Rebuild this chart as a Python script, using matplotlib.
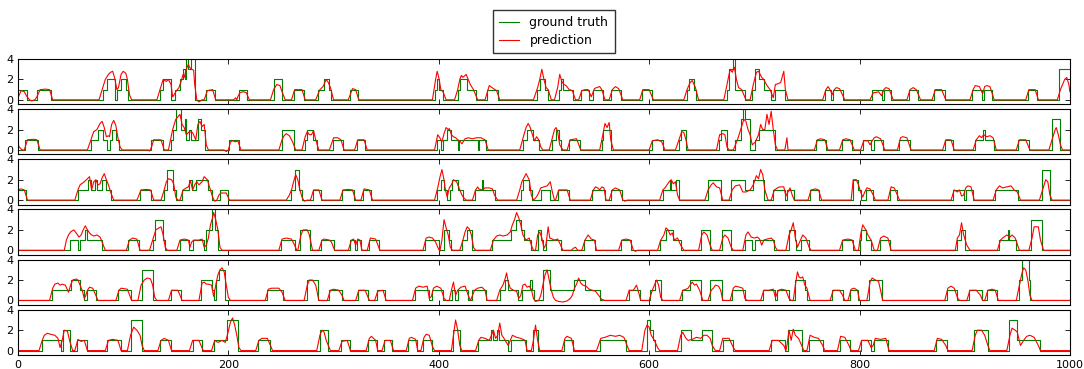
import matplotlib
matplotlib.use('Agg')
from matplotlib import pyplot as plt

# ground truth: (x where level starts, level) -- drawn as steps
gt1 = [(0,1),(9,0),(18,1),(31,0),(81,1),(85,2),(92,0),(94,1),(98,2),(103,1),(105,0),
       (135,1),(138,2),(145,0),(149,1),(154,2),(157,3),(159,2),(160,4.3),(162,3),(164,4.3),(168,0),
       (179,1),(187,0),(210,1),(218,0),(243,2),(251,0),(262,1),(272,0),(285,1),(291,2),(296,1),(298,0),
       (316,1),(323,0),(396,1),(398,2),(400,1),(404,0),(418,1),(420,2),(427,1),(435,0),(446,1),(456,0),
       (493,1),(496,2),(501,1),(504,0),(514,1),(516,2),(518,1),(528,0),(535,1),(543,0),(547,1),(556,0),
       (564,1),(573,0),(593,1),(603,0),(636,1),(638,2),(643,1),(645,0),(674,1),(676,3),(680,4.3),(682,1),(691,0),
       (698,1),(701,3),(704,2),(709,1),(716,0),(720,1),(729,0),(767,1),(773,0),(775,1),(784,0),
       (812,1),(821,0),(823,1),(830,0),(847,1),(856,0),(871,1),(881,0),(907,1),(916,0),(918,1),(926,0),
       (960,1),(969,0),(990,3)]
gt2 = [(0,0),(7,1),(19,0),(69,1),(76,2),(81,1),(85,0),(87,1),(89,2),(93,1),(96,0),
       (126,1),(138,0),(145,1),(147,2),(150,4.3),(155,2),(159,3),(160,1),(163,2),(164,1),(171,3),(174,2),(178,0),
       (201,1),(210,0),(251,2),(262,0),(273,1),(275,2),(280,1),(284,0),(299,1),(309,0),(322,1),(330,0),
       (398,1),(402,0),(404,1),(408,2),(412,1),(418,0),(419,1),(437,0),(438,1),(445,0),
       (480,1),(484,2),(490,1),(495,0),(508,1),(511,2),(514,1),(516,0),(524,1),(534,0),(555,1),(556,2),(564,0),
       (603,1),(613,0),(628,1),(630,2),(635,0),(666,1),(668,2),(674,0),(682,1),(687,3),(689,4.3),(691,3),(696,0),
       (701,1),(704,2),(720,0),(759,1),(768,0),(783,1),(793,0),(803,1),(811,0),(814,1),(822,0),(838,1),(848,0),
       (881,1),(889,0),(910,1),(917,2),(919,1),(928,0),(951,1),(961,0),(983,3),(991,0)]
gt3 = [(0,1),(8,0),(57,1),(67,2),(69,1),(73,2),(75,1),(80,2),(84,1),(88,0),(116,1),(126,0),
       (139,1),(142,3),(147,1),(150,0),(156,1),(163,2),(165,1),(169,2),(181,1),(184,0),(192,1),(200,0),
       (260,1),(263,3),(267,1),(270,0),(280,1),(288,0),(308,1),(319,0),(328,1),(336,0),
       (398,1),(402,2),(405,1),(408,0),(411,1),(413,2),(418,1),(423,0),(434,1),(441,2),(442,1),(453,0),
       (478,1),(480,2),(486,1),(489,0),(497,1),(506,0),(513,1),(524,0),(546,1),(558,0),(564,1),(574,0),
       (613,1),(620,2),(621,1),(626,2),(628,0),(656,2),(668,0),(678,2),(691,1),(699,2),(709,0),
       (718,1),(729,0),(731,1),(738,0),(753,1),(761,0),(794,2),(799,1),(801,0),(806,1),(813,0),(829,1),(836,0),
       (889,1),(899,0),(901,1),(908,0),(929,1),(951,0),(973,3),(981,0)]
gt4 = [(0,0),(49,1),(57,0),(59,1),(64,2),(66,1),(80,0),(105,1),(115,0),(128,1),(130,3),(138,1),(140,0),
       (154,1),(163,0),(166,1),(177,0),(179,2),(184,4.3),(187,2),(190,0),(250,1),(263,0),(268,2),(278,0),(288,1),(300,0),
       (316,1),(320,0),(322,1),(326,0),(334,1),(343,0),(387,1),(400,0),(405,2),(410,1),(412,0),(422,1),(427,2),(432,0),
       (451,1),(469,2),(473,3),(478,2),(481,1),(488,0),(494,2),(497,1),(499,0),(502,1),(516,0),(538,1),(549,0),(573,1),(583,0),
       (610,1),(616,2),(623,1),(630,0),(649,2),(658,0),(669,2),(678,0),(691,1),(698,0),(701,1),(719,0),(733,2),(739,1),(740,0),(744,1),(752,0),
       (783,1),(794,0),(800,1),(801,2),(806,1),(811,0),(819,1),(829,0),(893,1),(896,2),(900,0),(933,1),(941,2),(942,1),(949,0),(963,3),(973,0)]
gt5 = [(0,0),(32,1),(50,2),(59,1),(63,0),(66,1),(74,0),(95,1),(107,0),(118,3),(128,0),(145,1),(155,0),
       (174,2),(184,1),(186,0),(188,2),(191,3),(197,0),(237,1),(252,0),(275,2),(285,0),(296,1),(308,0),(323,1),(333,0),(341,1),(349,0),
       (377,1),(391,0),(394,1),(404,0),(413,1),(415,0),(418,1),(428,0),(432,1),(445,0),(458,1),(463,2),(466,1),(475,0),(479,1),(487,2),(489,1),(491,0),
       (499,3),(506,1),(529,2),(539,1),(553,0),(581,1),(591,0),(601,1),(606,2),(611,0),(631,1),(639,2),(649,0),(658,2),(669,0),(679,1),(691,0),
       (708,1),(720,0),(722,1),(733,0),(739,2),(748,1),(750,0),(774,1),(784,0),(791,1),(799,0),(809,2),(821,0),(883,1),(893,0),(904,1),(916,0),(921,1),(931,0),
       (952,2),(954,4.3),(961,2),(962,0)]
gt6 = [(0,0),(23,1),(41,0),(43,2),(49,0),(56,1),(66,0),(85,1),(98,0),(107,3),(118,0),(135,1),(145,0),(166,1),(175,0),
       (186,1),(199,3),(209,0),(228,1),(240,0),(287,2),(295,0),(307,1),(316,0),(333,1),(341,0),(348,1),(356,0),(371,1),(379,0),(385,1),(394,0),
       (414,2),(420,0),(437,1),(450,2),(452,1),(455,2),(457,1),(466,0),(469,1),(483,0),(490,2),(494,0),(519,1),(528,0),(553,1),(578,0),
       (598,3),(601,2),(604,1),(606,0),(630,2),(640,1),(650,2),(660,0),(670,1),(680,0),(716,1),(729,0),(732,2),(745,0),(752,1),(765,0),
       (781,1),(791,0),(801,1),(811,0),(814,1),(827,0),(873,1),(883,0),(909,2),(922,0),(942,3),(950,1),(972,0)]

# prediction: (x, value) points
pr1 = [(0,0.2),(3,0.9),(6,0.8),(8,0.4),(11,0),(13,-0.1),(16,0),(18,0.3),(21,1.0),(26,1.05),(30,1.0),(33,0),
       (77,0),(80,1.0),(83,2.0),(86,2.5),(88,2.7),(90,2.8),(92,2.1),(94,1.0),(95.5,1.2),(98,2.5),(100,2.8),(102.5,2.6),(104,2.0),(106,0.5),(108,0),
       (132,0),(135,1.0),(138,2.0),(141,1.8),(143,2.0),(145.5,1.5),(147,0.3),(148.5,0.5),(150,0.8),(153,1.2),(155,1.8),(157,2.5),(158,2.2),
       (160,3.0),(162,3.5),(163,3.2),(165,3.0),(167,2.9),(168,1.5),(170,0),(172,-0.2),(175,0),
       (177,0),(180,0.9),(185,1.0),(188,0),(205,0),(207,0.2),(208,0),(209,0.3),(211,0.7),(214,0.8),(217,0.7),(220,0),
       (240,0),(243,1.0),(246,1.5),(249,1.4),(251,0.8),(254,0),(260,0),(263,1.0),(270,1.0),(273,0),
       (283,0),(287,1.0),(290,1.3),(293,2.0),(295,1.7),(297,1.2),(300,0),(314,0),(318,1.1),(321,1.0),(324,0),
       (394,0),(397,2.0),(398.5,2.8),(400,2.2),(402,1.0),(404,0.8),(407,0),
       (415,0),(418,1.0),(420,2.0),(421.5,2.4),(423,2.2),(426,2.5),(428,2.0),(430,1.5),(433,1.0),(437,0),
       (444,0),(448,1.4),(452,1.1),(455,0.9),(458,0),
       (490,0),(494,1.2),(496,2.0),(498,3.0),(500,2.0),(502,1.2),(504,1.0),(507,0),
       (510,0),(513,1.2),(515,2.5),(517,1.8),(519,1.5),(521,1.4),(524,1.0),(527,0.9),(530,0),
       (533,0),(536,0.9),(539,1.0),(542,1.0),(545,0.3),(548,1.1),(550,1.2),(553,1.3),(555,1.0),(558,0),
       (562,0),(565,1.0),(568,1.3),(571,1.1),(575,0),(591,0),(594,1.0),(600,1.0),(604,0),
       (633,0),(636,1.0),(639,1.7),(641,1.9),(644,1.2),(647,0),
       (671,0),(674,1.5),(677,3.0),(679,2.7),(681,3.2),(683,2.0),(685,1.2),(688,1.0),(692,0),
       (696,0),(699,1.5),(702,2.7),(704,2.8),(707,2.2),(709,2.0),(712,1.4),(715,1.0),(718,0.2),(720,1.5),(723,1.6),(725,1.7),(728,2.8),(729.5,1.0),(732,0),
       (765,0),(768,1.0),(770,1.3),(772,1.0),(774,0.5),(776,1.0),(778,1.2),(781,1.1),(786,0),
       (810,0),(813,0.7),(815,0.7),(818,0.8),(821,0.4),(823,1.0),(825,1.2),(828,1.1),(832,0),
       (845,0),(848,1.0),(851,1.2),(854,1.0),(858,0),(869,0),(872,1.0),(878,1.0),(882,0),
       (905,0),(908,1.0),(910,1.4),(914,1.3),(917,0.6),(919,1.3),(921,1.4),(924,1.3),(928,0),
       (958,0),(961,1.0),(967,1.0),(970,0),(988,0),(991,1.0),(995,2.0),(997,2.2),(999,1.5),(1000,0.8)]
pr2 = [(0,0.5),(2,0.2),(4,0),(6,0),(9,1.0),(15,1.05),(18,1.0),(21,0),
       (66,0),(70,1.2),(72,1.8),(75,2.0),(78,2.6),(80,2.8),(82,2.2),(84,1.3),(86,1.4),(87,1.3),(89,2.5),(91,2.9),(93,2.4),(95,1.2),(97,0.3),(99,0),
       (124,0),(125,-0.1),(127,0.3),(129,1.0),(136,1.0),(139,0),
       (143,0),(145,1.0),(147,2.0),(150,3.0),(154,3.5),(156,2.5),(158,2.2),(160,1.5),(163,1.8),(166,1.7),(169,1.0),(171,2.5),(173,2.8),(175,2.3),(177,2.5),(179,0.5),(181,0),
       (196,0),(198,-0.15),(200,0),(202,0.8),(204,0.9),(207,0.8),(209,0.9),(212,0),
       (248,0),(251,1.0),(253,1.4),(255,1.6),(258,1.4),(261,0.8),(264,0),
       (270,0),(273,1.3),(275,1.8),(277,1.5),(279,1.5),(281,1.9),(283,1.0),(286,0),
       (296,0),(300,1.2),(304,1.2),(307,1.0),(310,0),(320,0),(323,1.0),(329,1.0),(332,0),
       (396,0),(399,1.5),(401,1.2),(403,0.8),(405,1.6),(407,2.2),(409,2.0),(410,2.1),(412,1.5),(414,1.3),(416,1.2),(418,1.0),(420,0.9),(422,0.6),
       (425,1.1),(428,1.2),(432,1.1),(436,1.2),(440,1.2),(444,1.0),(447,0),
       (477,0),(481,1.5),(483,2.2),(485,2.6),(487,2.2),(489,1.5),(491,0.9),(493,1.3),(495,1.0),(497,0.3),(499,0),
       (505,0),(508,1.2),(510,2.0),(511.5,2.2),(513,1.8),(515,0.5),(518,0),(522,0),(525,1.0),(531,1.1),(535,0),
       (553,0),(556,1.5),(558,2.6),(560,2.2),(562,2.7),(563.5,1.0),(566,0),
       (600,0),(603,0.9),(608,1.0),(612,0.8),(615,0),(625,0),(629,1.2),(631,1.8),(633,1.7),(635,1.0),(637,0),
       (664,0),(667,1.5),(670,1.6),(672,1.5),(674,0.3),(676,0),
       (680,0),(684,1.0),(687,2.0),(690,3.0),(692,2.8),(694,2.0),(696,1.5),(698,0.5),(701,0.8),(704,1.5),(706,2.5),(708,2.0),(710,2.0),
       (712,3.5),(714,2.5),(716,3.8),(718,2.0),(720,0.5),(722,0),(729,0),(731,1.2),(732,0),
       (757,0),(760,1.0),(763,1.1),(767,1.0),(770,0),(781,0),(784,1.0),(787,1.1),(791,1.0),(795,0),
       (801,0),(804,0.9),(808,0.9),(810,0.5),(812,0.9),(814,1.2),(816,1.3),(820,1.1),(824,0),
       (836,0),(839,1.2),(841,1.3),(845,1.2),(849,0),(879,0),(882,1.0),(887,1.0),(890,0),
       (908,0),(911,1.0),(914,1.4),(916,1.2),(918,1.5),(921,1.3),(924,1.4),(927,1.2),(930,0),
       (949,0),(952,1.0),(958,1.0),(962,0),(980,0),(983,1.0),(986,2.0),(987,2.2),(989,1.5),(991,0.5),(993,0),(1000,0)]
pr3 = [(0,1.0),(3,1.1),(6,1.0),(9,0),
       (54,0),(57,1.0),(59,1.5),(63,1.8),(66,2.1),(68,2.3),(70,1.0),(72,1.8),(74,2.0),(76,1.5),(78,1.6),(80,2.2),(82,2.6),(84,2.0),(86,1.5),(88,0.8),(91,0),
       (113,0),(117,1.0),(122,1.05),(126,1.0),(129,0),
       (136,0),(139,1.0),(141,1.8),(143,2.1),(146,2.0),(148,1.6),(150,0.3),(152,0),
       (154,0),(157,1.0),(160,1.2),(162,1.3),(164,1.9),(166,1.0),(168,1.5),(170,1.8),(172,1.5),(175,1.8),(177,2.3),(180,2.0),(183,1.0),(185,0.3),
       (187,-0.1),(189,0),(191,0.5),(193,0.7),(198,0.7),(201,0),
       (255,0),(258,0.5),(260,1.0),(262,1.8),(264,2.5),(266,2.0),(268,1.0),(270,0.3),(272,-0.1),(275,0),
       (278,0),(281,1.0),(286,1.0),(289,0),(306,0),(309,1.0),(314,1.05),(318,1.0),(321,0),(326,0),(329,1.1),(334,1.0),(337,0),
       (396,0),(399,1.2),(401,2.2),(403,3.0),(405,2.0),(406,1.2),(408,0.3),(410,1.2),(412,1.5),(414,2.0),(417,1.8),(420,1.0),(422,0.5),(424,0.2),(426,0),
       (432,0),(435,1.0),(437,1.3),(438,1.1),(441,1.0),(444,1.2),(448,1.2),(451,1.1),(453,0.5),(456,0),
       (474,0),(477,1.0),(479,1.8),(481,2.2),(483,2.6),(486,2.0),(488,0.5),(490,0),
       (492,0.2),(494,0.5),(497,1.2),(500,1.3),(503,1.4),(506,1.8),(508,0.8),(510,0),(511,0),(514,1.0),(522,1.0),(525,0),
       (544,0),(547,1.0),(549,1.3),(551,1.2),(553,1.0),(555,1.3),(557,1.2),(559,0),
       (562,0),(565,1.0),(568,1.2),(572,1.0),(575,0),(577,-0.1),(579,0),
       (610,0),(613,1.0),(615,1.2),(617,1.5),(619,1.8),(621,2.0),(623,1.6),(625,1.8),(627,0.5),(629,0),
       (653,0),(656,1.0),(659,1.5),(661,1.7),(664,1.3),(667,1.2),(670,0),
       (676,0),(679,1.0),(682,1.4),(686,1.5),(689,0.8),(692,0.8),(696,1.0),(699,1.5),(702,2.4),(704,2.1),(706,3.0),(708,2.5),(710,1.0),(713,0),
       (716,0),(719,1.0),(722,1.2),(724,1.3),(728,1.3),(730,0.4),(732,0.8),(734,1.2),(736,0.5),(738,0),
       (751,0),(754,1.0),(758,1.1),(761,1.0),(764,0),
       (792,0),(794,2.0),(797,2.0),(799,1.5),(801,0.8),(803,0.3),(805,0.8),(807,1.2),(810,1.1),(813,0.5),(815,0),
       (827,0),(830,1.3),(833,1.2),(836,0.5),(838,0),
       (887,0),(890,1.0),(893,0.8),(895,1.0),(897,0.4),(899,0.5),(901,1.2),(903,1.4),(906,1.3),(909,0),
       (927,0),(930,1.0),(933,1.4),(936,1.2),(940,1.3),(944,1.4),(947,1.0),(950,0.8),(953,0),
       (971,0),(974,1.0),(977,2.0),(979,1.8),(981,0.5),(983,0),(1000,0)]
pr4 = [(0,0),(44,0),(46,1.0),(48,1.5),(50,1.8),(53,2.0),(56,1.6),(58,1.3),(60,1.5),(62,2.0),(64,2.4),(66,2.0),(68,1.7),(70,1.5),(72,1.4),(75,1.5),(78,1.3),(80,0.8),(83,0),
       (103,0),(106,1.0),(109,1.2),(113,1.1),(116,0),
       (125,0),(128,1.0),(131,2.0),(134,2.2),(136,2.3),(138,1.5),(140,0.3),(142,0),
       (151,0),(154,1.0),(158,1.1),(162,1.0),(163.5,0.3),(165,0.8),(167,1.0),(172,1.0),(175,1.1),(177,0.3),(179,0.5),(181,1.2),(183,2.5),(185,3.2),(186,3.7),
       (188,3.0),(190,2.0),(192,0.3),(194,0),
       (248,0),(251,1.1),(255,1.2),(260,1.1),(263,0.5),(265,0),(266,0),(269,1.5),(271,2.0),(275,2.0),(277,1.5),(280,0),
       (286,0),(289,1.0),(291,1.1),(296,1.0),(298,0.8),(301,0),(314,0),(317,1.0),(319,1.1),(321,0.5),(323,1.1),(325,1.0),(327,0),
       (332,0),(335,1.2),(340,1.1),(344,0),
       (385,0),(388,1.2),(391,1.3),(394,1.2),(397,0.8),(399,0.3),(401,-0.1),(403,1.0),(405,3.0),(407,2.2),(409,1.5),(411,0.3),(413,0),
       (420,0),(423,1.0),(425,1.8),(427,2.3),(429,2.1),(431,1.5),(433,0.3),(435,0),
       (449,0),(452,1.0),(455,1.4),(458,1.5),(461,1.4),(465,1.5),(468,1.8),(470,2.5),(472,3.0),(474,3.7),(476,3.2),(478,2.5),(480,1.5),(483,1.0),(486,1.2),(488,0.5),(490,0),
       (492,0),(494,1.5),(496,1.8),(498,1.2),(500,0.2),(502,0.6),(504,2.3),(505.5,1.2),(508,1.1),(510,1.0),(513,1.1),(515,0.7),(518,0),
       (526,0),(528,0.2),(530,0.3),(532,0),(536,0),(539,1.0),(542,1.5),(545,1.1),(548,1.0),(550,0),
       (571,0),(574,1.0),(578,1.1),(582,1.0),(585,0),(587,-0.1),(589,0),
       (608,0),(611,1.0),(614,1.5),(616,2.2),(618,2.0),(620,1.5),(622,1.7),(624,1.0),(627,1.2),(630,0.5),(633,0),
       (647,0),(650,1.5),(652,1.8),(655,1.5),(658,0.5),(660,0),(667,0),(670,1.2),(672,1.5),(675,1.2),(678,0.3),(680,0),
       (689,0),(692,1.5),(694,1.8),(697,1.3),(700,1.2),(703,1.3),(705,1.1),(707,0.5),(709,1.0),(712,1.1),(716,1.2),(718,1.0),(720,0.3),(722,0),
       (730,0),(733,1.5),(735,2.0),(737,2.7),(739,1.2),(741,0.3),(743,0.8),(746,1.5),(749,1.2),(752,0.3),(754,0),
       (781,0),(784,1.0),(789,1.1),(793,1.0),(796,0),(799,0),(801,1.5),(803,2.5),(806,2.0),(808,1.5),(811,1.0),(814,0),
       (817,0),(820,1.2),(823,1.4),(827,1.2),(830,0),
       (891,0),(893,1.2),(895,1.5),(897,2.7),(899,1.5),(902,0.5),(905,0),
       (931,0),(934,1.0),(936,1.2),(940,1.5),(943,1.3),(945,1.5),(948,1.2),(952,0),
       (961,0),(964,1.2),(966,2.3),(970,2.3),(972,1.0),(975,0),(1000,0)]
pr5 = [(0,0),(30,0),(33,1.2),(35,1.6),(38,1.7),(40,1.5),(42,1.6),(45,1.5),(48,0.8),(50,1.5),(52,2.0),(55,2.1),(57,2.0),(59,1.5),(61,1.0),(63,0.2),
       (64.5,0.5),(66,1.0),(68,1.3),(71,1.2),(74,0.5),(76,0),
       (93,0),(96,1.0),(98,1.2),(104,1.1),(108,0),(114,0),(117,1.5),(120,2.0),(123,2.2),(126,2.1),(128,1.5),(130,0.3),(132,0),
       (143,0),(146,1.0),(152,1.0),(156,0),
       (172,0),(175,1.7),(177,1.8),(179,1.6),(181,1.6),(184,1.5),(186,0.4),(188,1.5),(190,2.5),(192,3.0),(194,3.2),(196,2.8),(198,1.5),(200,0.3),(202,0),
       (235,0),(238,1.1),(241,1.2),(248,1.2),(251,0.8),(254,0),(272,0),(275,1.5),(277,2.0),(280,2.0),(283,1.5),(286,0),
       (294,0),(297,1.0),(300,1.1),(305,1.0),(308,0.5),(310,0),(321,0),(324,1.0),(330,1.0),(334,0),(339,0),(342,0.9),(347,1.0),(350,0),
       (375,0),(378,1.2),(381,1.4),(385,1.3),(389,1.4),(391,0.2),(393,0.4),(395,1.2),(398,1.4),(402,1.2),(405,0.2),(407,0),
       (410,0),(412,1.0),(414,1.8),(416,0.5),(418,1.0),(421,1.3),(425,1.4),(428,0.5),(430,0),
       (431,0.2),(434,1.0),(437,1.2),(441,1.3),(444,1.0),(446,0),
       (455,0),(458,1.0),(461,1.5),(463,2.1),(464.5,2.7),(466,1.8),(468,1.2),(471,1.0),(474,0.9),(476,0.2),(478,0.5),(480,1.5),(482,1.6),(484,1.3),(486,1.4),
       (488,1.1),(490,0.2),(492,-0.1),(495,0),
       (497,0.5),(499,1.5),(501,2.5),(503,3.0),(505,2.0),(507,1.0),(509,0.3),(511,0),(514,-0.1),(518,-0.15),(522,-0.05),(525,0.2),(527,0.5),(529,1.2),
       (531,1.6),(533,2.2),(535,1.7),(537,1.5),(540,1.4),(543,1.1),(546,1.0),(549,0.9),(552,0.5),(555,0.1),(558,0),
       (578,0),(581,1.0),(585,1.0),(588,1.5),(590,0.8),(592,0),(600,0),(603,1.0),(605,1.5),(607,2.0),(609,1.5),(611,0.3),(613,0),
       (629,0),(632,1.0),(635,1.1),(637,1.2),(639,1.5),(641,1.8),(643,1.5),(645,1.6),(648,1.0),(651,0),
       (656,0),(659,1.0),(661,1.2),(663,1.5),(666,1.4),(668,1.0),(670,0),(677,0),(680,1.2),(682,1.4),(686,1.3),(689,1.2),(691,0.2),(693,0),
       (706,0),(709,1.0),(714,1.0),(718,1.1),(720,0.3),(723,1.0),(726,1.1),(730,1.0),(733,0.2),(735,0),
       (737,0),(739,1.5),(741,2.8),(742.5,2.3),(744,2.2),(746,2.3),(748,1.5),(750,1.2),(753,0),
       (772,0),(775,1.0),(781,1.0),(784,0.5),(786,0),(789,0),(792,1.1),(795,1.2),(798,1.0),(800,0),
       (807,0),(810,1.8),(812,2.2),(815,2.0),(818,1.9),(820,1.0),(822,0),
       (881,0),(884,1.2),(887,1.4),(890,1.2),(893,0.3),(895,0),(902,0),(905,1.0),(911,1.0),(915,0.5),(917,0),
       (919,0),(922,1.0),(926,1.1),(929,1.0),(932,0),
       (949,0),(952,1.5),(954,2.5),(956,3.2),(958,3.0),(960,2.0),(962,0.5),(964,0),(1000,0)]
pr6 = [(0,0),(20,0),(23,1.0),(25,1.5),(28,1.7),(31,1.6),(35,1.5),(38,1.2),(40,0.3),(42,1.0),(44,2.0),(47,1.9),(49,1.0),(52,0),
       (54,0),(57,1.1),(60,0.9),(63,1.0),(66,0),(83,0),(86,1.0),(90,1.1),(95,1.0),(98,0),
       (104,0),(107,1.5),(110,2.3),(113,2.0),(116,1.5),(118,0.5),(120,0),(133,0),(136,1.0),(139,1.2),(143,1.0),(146,0),
       (163,0),(166,1.0),(172,1.0),(176,0),
       (184,0),(187,1.0),(190,0.8),(194,1.0),(197,0.8),(199,1.5),(202,2.8),(204,3.2),(206,2.5),(208,1.5),(210,0.3),(212,0),
       (226,0),(229,1.0),(232,1.2),(237,1.2),(240,0.5),(242,0),
       (284,0),(287,1.5),(289,2.0),(291,1.8),(293,1.0),(295,0.5),(297,0),(305,0),(308,0.9),(313,1.0),(316,0),
       (331,0),(334,1.2),(336,1.4),(340,1.0),(342,0),(346,0),(349,1.0),(354,1.0),(357,0),
       (369,0),(372,1.2),(374,1.3),(378,1.1),(380,0),(383,0),(386,1.3),(388,1.6),(391,1.5),(394,0.4),(396,0),
       (412,0),(414,1.5),(416,3.0),(418,2.0),(420,0.5),(422,0),
       (435,0),(438,1.0),(440,1.3),(444,1.2),(448,1.0),(450,1.5),(452,2.0),(454,1.2),(456,1.5),(458,2.7),(460,1.5),(462,1.2),(466,0.5),
       (468,1.0),(470,1.5),(474,1.3),(478,1.2),(482,1.0),(484,0),
       (488,0),(490,1.0),(492,2.5),(494,1.0),(496,0),(517,0),(520,1.2),(522,1.4),(526,1.2),(529,0),
       (550,0),(554,1.2),(558,1.3),(563,1.5),(568,1.4),(572,1.5),(576,1.3),(579,0.5),(581,0),
       (593,0),(596,2.0),(598,2.5),(600,2.3),(602,1.5),(605,1.0),(608,0.3),(610,0),
       (627,0),(630,1.5),(632,1.8),(635,1.2),(637,1.0),(641,1.1),(645,1.3),(649,1.2),(652,1.5),(655,1.5),(658,1.2),(660,0.5),(663,0),
       (667,0),(670,1.2),(676,1.2),(680,0.3),(682,0),
       (714,0),(717,1.0),(723,1.0),(728,0.5),(730,0),(731,0.5),(733,2.0),(735,1.0),(737,2.1),(739,1.5),(742,1.2),(745,0.5),(747,0),
       (750,0),(753,1.5),(757,1.3),(761,1.2),(765,0.5),(767,0),(779,0),(782,1.4),(786,1.3),(790,0.5),(792,0),
       (799,0),(802,1.0),(808,1.0),(811,0.3),(813,0.5),(815,1.2),(820,1.1),(825,1.2),(828,0),
       (871,0),(874,1.2),(878,1.1),(882,0.5),(884,0),(907,0),(910,1.5),(912,2.0),(916,2.0),(919,1.5),(922,0.5),(924,0),
       (940,0),(943,1.5),(945,2.2),(948,2.0),(950,1.8),(953,0.5),(956,1.0),(959,1.4),(962,1.5),(966,1.3),(970,0.5),(972,0),(1000,0)]

GT = [gt1, gt2, gt3, gt4, gt5, gt6]
PRED = [pr1, pr2, pr3, pr4, pr5, pr6]
YTICKS = [0, 2, 4]
XTICKS = [0, 200, 400, 600, 800, 1000]

fig, axes = plt.subplots(6, 1, sharex=True, figsize=(10.84, 3.69), dpi=100)
fig.subplots_adjust(left=0.0166, right=0.987, top=0.84, bottom=0.038, hspace=0.11)

for ax, gt, pr in zip(axes, GT, PRED):
    gx = [p[0] for p in gt] + [1000]
    gy = [p[1] for p in gt] + [gt[-1][1]]
    l1, = ax.plot(gx, gy, color='g', lw=0.8, drawstyle='steps-post')
    l2, = ax.plot([p[0] for p in pr], [p[1] for p in pr], color='r', lw=0.8)
    ax.set_xlim(0, 1000)
    ax.set_ylim(-0.43, 4)
    ax.set_yticks(YTICKS)
    ax.set_xticks(XTICKS)
    ax.tick_params(direction='in', top=True, right=True, labelsize=8, length=3.5, width=0.6)
    for s in ax.spines.values():
        s.set_linewidth(0.8)

fig.legend([l1, l2], ['ground truth', 'prediction'], loc='upper center',
           bbox_to_anchor=(0.511, 0.99), fancybox=False, edgecolor='black',
           fontsize=9, handlelength=1.6, borderpad=0.5, labelspacing=0.4)
fig.savefig('out.png')
